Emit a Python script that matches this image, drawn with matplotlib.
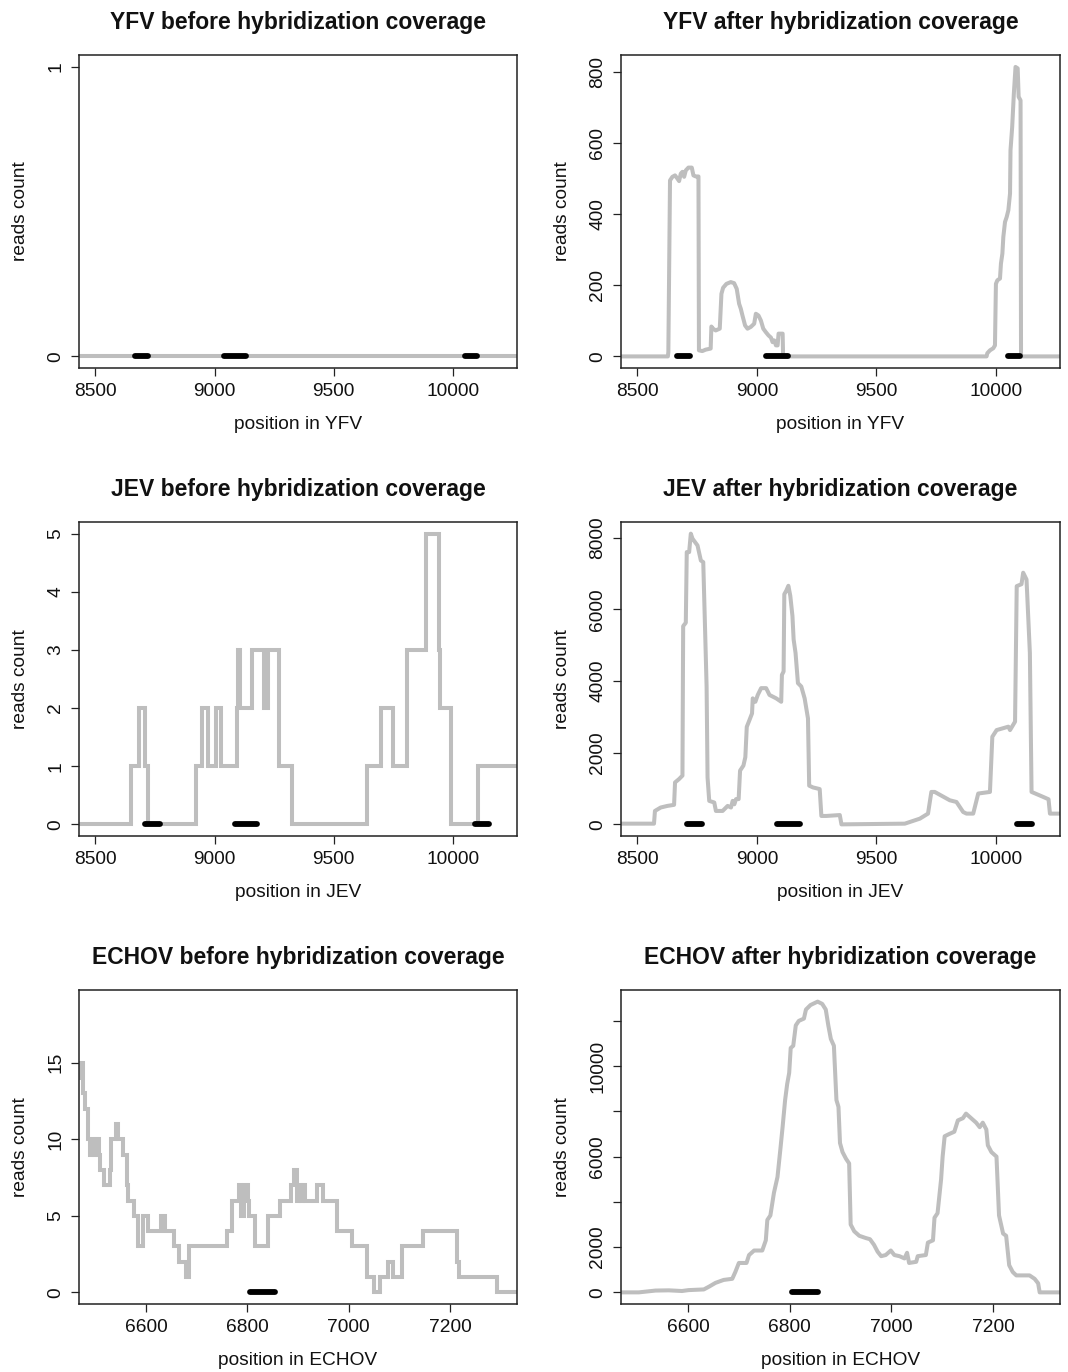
import matplotlib
matplotlib.use("Agg")
import matplotlib.pyplot as plt

plt.rcParams['font.family'] = ['Liberation Sans', 'DejaVu Sans']

# ---------------- data ----------------
# YFV before (all zero)
yfv_before_pos = [8400, 10300]
yfv_before_cov = [0, 0]

# YFV after
yfv_after_pos = [8400, 8628, 8630, 8637, 8647, 8658, 8668, 8675, 8682, 8689, 8696, 8703, 8714, 8728,
                 8735, 8745, 8756, 8758, 8772, 8786, 8807, 8810, 8817, 8828, 8845, 8852, 8859, 8873,
                 8891, 8905, 8916, 8926, 8933, 8940, 8951, 8961, 8975, 8989, 8996, 9007, 9017, 9027,
                 9038, 9049, 9059, 9066, 9073, 9080, 9087, 9091, 9108, 9110, 9961, 9964, 9975, 9989,
                 9996, 10000, 10006, 10017, 10021, 10027, 10031, 10038, 10045, 10052, 10059, 10061,
                 10068, 10075, 10082, 10091, 10095, 10103, 10105, 10300]
yfv_after_cov = [0, 0, 12, 495, 505, 509, 500, 493, 514, 519, 505, 523, 531, 531,
                 509, 506, 506, 17, 15, 19, 22, 84, 78, 73, 78, 176, 193, 204,
                 209, 206, 190, 148, 134, 115, 87, 78, 83, 92, 120, 115, 101, 78,
                 68, 59, 53, 40, 45, 31, 31, 64, 64, 0, 0, 9, 17, 23,
                 31, 204, 214, 219, 261, 289, 336, 378, 392, 411, 458, 580,
                 645, 739, 814, 810, 730, 720, 0, 0]

# JEV before (step coverage)
jev_before_pos = [8400, 8648, 8685, 8708, 8720, 8923, 8948, 8973, 9005, 9026, 9095, 9100, 9107,
                  9159, 9206, 9226, 9269, 9326, 9641, 9696, 9748, 9807, 9886, 9940, 9945, 9993,
                  10103, 10300]
jev_before_cov = [0, 1, 2, 1, 0, 1, 2, 1, 2, 1, 2, 3, 2,
                  3, 2, 3, 1, 0, 1, 2, 1, 3, 5, 3, 2, 0,
                  1, 1]

# JEV after
jev_after_pos = [8400, 8570, 8574, 8598, 8626, 8654, 8658, 8675, 8689, 8692, 8703, 8707, 8717, 8724,
                 8731, 8752, 8766, 8776, 8784, 8790, 8794, 8801, 8822, 8829, 8857, 8878, 8892, 8899,
                 8906, 8913, 8924, 8930, 8944, 8952, 8958, 8969, 8980, 8983, 8994, 9004, 9018, 9039,
                 9053, 9081, 9102, 9105, 9112, 9115, 9123, 9132, 9140, 9149, 9154, 9162, 9172, 9186,
                 9200, 9214, 9219, 9235, 9263, 9270, 9291, 9347, 9354, 9619, 9682, 9716, 9730, 9744,
                 9807, 9835, 9849, 9863, 9877, 9905, 9926, 9975, 9985, 10003, 10052, 10059, 10080,
                 10087, 10107, 10114, 10128, 10142, 10149, 10198, 10220, 10226, 10300]
jev_after_cov = [20, 20, 375, 470, 515, 545, 1170, 1265, 1360, 5530, 5625, 7595, 7595, 8110,
                 7970, 7780, 7360, 7315, 5345, 3845, 1310, 655, 610, 375, 375, 515, 470, 655,
                 560, 705, 705, 1500, 1640, 1875, 2720, 2905, 3095, 3515, 3420, 3610, 3800, 3800,
                 3610, 3515, 3420, 4170, 4265, 6420, 6515, 6655, 6375, 5815, 5155, 4780, 3940, 3845,
                 3515, 2955, 1080, 1030, 985, 235, 235, 260, 0, 20, 160, 300, 905, 905,
                 672, 625, 485, 345, 300, 300, 860, 905, 2445, 2630, 2725, 2630, 2865,
                 6645, 6700, 7020, 6830, 4780, 905, 765, 700, 300, 300]

# ECHOV before (step coverage)
echov_before_pos = [6460, 6470, 6475, 6480, 6485, 6490, 6494, 6497, 6500, 6503, 6505, 6507, 6509,
                    6518, 6529, 6532, 6540, 6544, 6555, 6562, 6565, 6576, 6584, 6595, 6605, 6630,
                    6637, 6656, 6665, 6680, 6685, 6759, 6769, 6784, 6788, 6794, 6801, 6804, 6815,
                    6840, 6864, 6887, 6893, 6898, 6901, 6905, 6910, 6914, 6920, 6937, 6949, 6977,
                    7007, 7036, 7050, 7061, 7078, 7088, 7105, 7146, 7213, 7218, 7292, 7340]
echov_before_cov = [14, 15, 13, 12, 10, 9, 10, 9, 10, 9, 10, 9, 8,
                    7, 8, 10, 11, 10, 9, 7, 6, 5, 3, 5, 4, 5,
                    4, 3, 2, 1, 3, 4, 6, 7, 5, 7, 6, 5, 3,
                    5, 6, 7, 8, 6, 7, 6, 7, 6, 6, 7, 6, 4,
                    3, 1, 0, 1, 2, 1, 3, 4, 2, 1, 0, 0]

# ECHOV after
echov_after_pos = [6460, 6503, 6536, 6562, 6588, 6601, 6631, 6641, 6654, 6670, 6687, 6693, 6700, 6715,
                   6720, 6730, 6746, 6753, 6756, 6762, 6769, 6776, 6782, 6786, 6791, 6795, 6799, 6802,
                   6807, 6812, 6818, 6828, 6832, 6841, 6855, 6864, 6871, 6876, 6881, 6887, 6892, 6896,
                   6899, 6904, 6911, 6917, 6920, 6927, 6937, 6950, 6958, 6966, 6973, 6980, 6989, 6999,
                   7006, 7016, 7026, 7031, 7035, 7049, 7052, 7068, 7072, 7082, 7085, 7091, 7098, 7101,
                   7105, 7114, 7124, 7131, 7141, 7147, 7157, 7167, 7174, 7180, 7187, 7190, 7197, 7207,
                   7212, 7220, 7226, 7232, 7239, 7246, 7272, 7282, 7289, 7292, 7340]
echov_after_cov = [0, 0, 80, 90, 60, 100, 130, 250, 420, 550, 600, 900, 1300, 1300,
                   1650, 1850, 1850, 2300, 3200, 3400, 4400, 5100, 6400, 7300, 8500, 9200, 9700, 10800,
                   10900, 11800, 12000, 12100, 12500, 12700, 12850, 12750, 12500, 11800, 11200, 10900, 8500, 8200,
                   6600, 6200, 5900, 5700, 3000, 2700, 2500, 2400, 2350, 2100, 1800, 1600, 1650, 1850,
                   1650, 1600, 1500, 1750, 1300, 1350, 1600, 1650, 2200, 2300, 3300, 3500, 5000, 6000,
                   6900, 7000, 7100, 7600, 7700, 7900, 7700, 7500, 7300, 7500, 7200, 6500, 6200, 6000,
                   3400, 2600, 2500, 1200, 900, 750, 750, 600, 400, 0, 0]

# probe regions (start, end)
yfv_probes = [(8665, 8720), (9040, 9130), (10050, 10100)]
jev_probes = [(8710, 8770), (9085, 9180), (10090, 10150)]
echov_probes = [(6805, 6855)]

# axis ranges and ticks
flavi_xrange = (8500, 10200)
flavi_xticks = [8500, 9000, 9500, 10000]
echov_xrange = (6500, 7300)
echov_xticks = [6600, 6800, 7000, 7200]

panels = [
    dict(title="YFV before hybridization coverage", virus="YFV", pos=yfv_before_pos, cov=yfv_before_cov,
         step=True, probes=yfv_probes, xr=flavi_xrange, xt=flavi_xticks, ymax=1,
         yt=[0, 1], ylab=["0", "1"]),
    dict(title="YFV after hybridization coverage", virus="YFV", pos=yfv_after_pos, cov=yfv_after_cov,
         step=False, probes=yfv_probes, xr=flavi_xrange, xt=flavi_xticks, ymax=815,
         yt=[0, 200, 400, 600, 800], ylab=["0", "200", "400", "600", "800"]),
    dict(title="JEV before hybridization coverage", virus="JEV", pos=jev_before_pos, cov=jev_before_cov,
         step=True, probes=jev_probes, xr=flavi_xrange, xt=flavi_xticks, ymax=5,
         yt=[0, 1, 2, 3, 4, 5], ylab=["0", "1", "2", "3", "4", "5"]),
    dict(title="JEV after hybridization coverage", virus="JEV", pos=jev_after_pos, cov=jev_after_cov,
         step=False, probes=jev_probes, xr=flavi_xrange, xt=flavi_xticks, ymax=8110,
         yt=[0, 2000, 4000, 6000, 8000], ylab=["0", "2000", "4000", "6000", "8000"]),
    dict(title="ECHOV before hybridization coverage", virus="ECHOV", pos=echov_before_pos, cov=echov_before_cov,
         step=True, probes=echov_probes, xr=echov_xrange, xt=echov_xticks, ymax=19,
         yt=[0, 5, 10, 15], ylab=["0", "5", "10", "15"]),
    dict(title="ECHOV after hybridization coverage", virus="ECHOV", pos=echov_after_pos, cov=echov_after_cov,
         step=False, probes=echov_probes, xr=echov_xrange, xt=echov_xticks, ymax=12850,
         yt=[0, 2000, 4000, 6000, 8000, 10000, 12000], ylab=["0", "2000", "", "6000", "", "10000", ""]),
]

W, H = 1068, 1372
fig = plt.figure(figsize=(W / 100, H / 100), dpi=100)

col_x = [(79, 517), (621, 1060)]
row_y = [(55, 368), (522, 836), (990, 1304)]

line_grey = "#BEBEBE"
frame_col = "#222222"

for i, p in enumerate(panels):
    r, c = divmod(i, 2)
    x0, x1 = col_x[c]
    y0, y1 = row_y[r]
    ax = fig.add_axes([x0 / W, 1 - y1 / H, (x1 - x0) / W, (y1 - y0) / H])

    if p["step"]:
        ax.plot(p["pos"], p["cov"], color=line_grey, lw=2.9, drawstyle="steps-post",
                solid_joinstyle="miter")
    else:
        ax.plot(p["pos"], p["cov"], color=line_grey, lw=2.9, solid_joinstyle="round")
    for (s, e) in p["probes"]:
        ax.plot([s, e], [0, 0], color="black", lw=4.2, solid_capstyle="round")

    a, b = p["xr"]
    ext = 0.04 * (b - a)
    ax.set_xlim(a - ext, b + ext)
    yext = 0.04 * p["ymax"]
    ax.set_ylim(-yext, p["ymax"] + yext)

    ax.set_xticks(p["xt"])
    ax.set_xticklabels([str(v) for v in p["xt"]])
    ax.set_yticks(p["yt"])
    ax.set_yticklabels(p["ylab"])
    for lbl in ax.get_yticklabels():
        lbl.set_rotation(90)
        lbl.set_va("center")

    ax.tick_params(axis="both", direction="out", length=5.5, width=0.9, color=frame_col,
                   labelsize=13.8, labelcolor="#111111", pad=5)
    for sp in ax.spines.values():
        sp.set_color(frame_col)
        sp.set_linewidth(1.1)

    ax.set_title(p["title"], fontsize=16.5, fontweight="bold", pad=19, color="#111111")
    ax.set_xlabel("position in " + p["virus"], fontsize=13.8, color="#111111")
    ax.set_ylabel("reads count", fontsize=13.8, color="#111111")
    ax.xaxis.set_label_coords(0.5, -48 / (y1 - y0))
    ax.yaxis.set_label_coords(-50 / (x1 - x0), 0.5)

fig.savefig("out.png", dpi=100)
